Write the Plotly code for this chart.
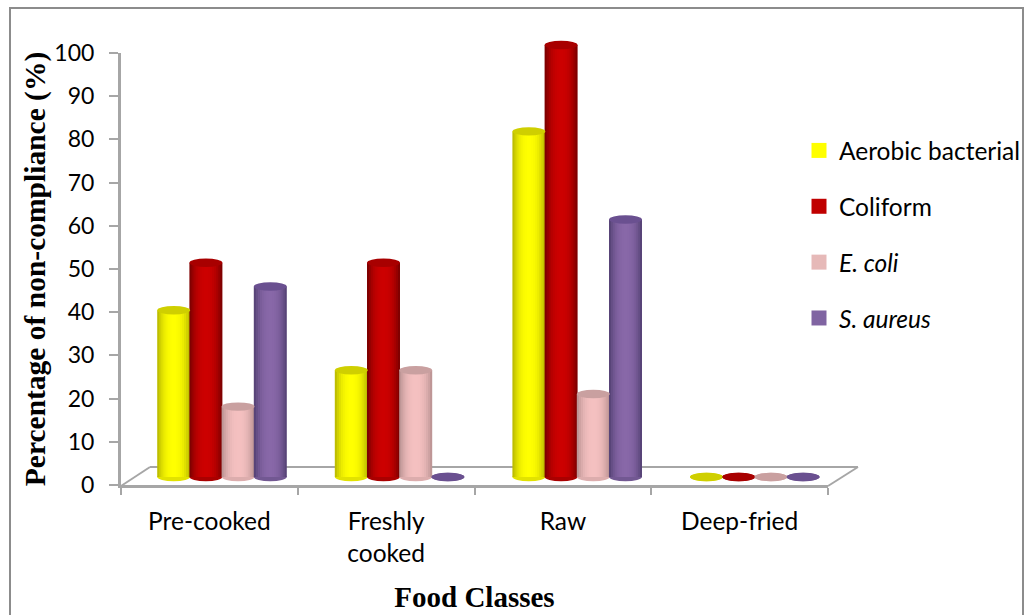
import plotly.graph_objects as go

W, H = 1029, 615

# ---- data ----
categories = ["Pre-cooked", "Freshly<br>cooked", "Raw", "Deep-fried"]
aerobic = [38.6, 24.7, 80, 0]
coliform = [49.6, 49.6, 100, 0]
e_coli = [16.3, 24.7, 19.2, 0]
s_aureus = [44.1, 0, 59.6, 0]
series_names = ["Aerobic bacterial", "Coliform", "<i>E. coli</i>", "<i>S. aureus</i>"]
series_values = [aerobic, coliform, e_coli, s_aureus]
# centre, edge, cap colours
palette = [
    ((255, 255, 0), (190, 190, 0), "#CFCF00"),
    ((204, 0, 0), (128, 0, 0), "#A80000"),
    ((244, 192, 192), (190, 150, 150), "#C9A0A0"),
    ((136, 104, 168), (88, 68, 120), "#6A5090"),
]
legend_colors = ["#FFFF00", "#C00000", "#E6B9B8", "#8064A2"]

# ---- geometry (pixels) ----
AX_L, AX_R, AX_T, AX_B = 121, 828, 53, 485      # visible axes
BX_L, BX_R, BX_T, BX_B = 121, 866, 36, 495      # depth-shifted plot for the cylinders
B_ZERO, B_PER_UNIT = 477, 4.32                  # y pixel of value 0 in the shifted plot
G0, G_STEP = 222, 177.6                         # centre of first group, step between groups
BAR_PX, STEP_PX = 33, 32.2
CAP_HALF_PX = 4.2


def px(x):
    return x / W


def py(y):
    return 1 - y / H


x2_range = [(BX_L - G0) / G_STEP, (BX_R - G0) / G_STEP]
y2_range = [(B_ZERO - BX_B) / B_PER_UNIT, (B_ZERO - BX_T) / B_PER_UNIT]
bar_w = BAR_PX / G_STEP
step = STEP_PX / G_STEP
cap_h = CAP_HALF_PX / B_PER_UNIT

fig = go.Figure()
shapes = []


def mix(a, b, t):
    return "rgb(%d,%d,%d)" % tuple(round(a[i] + (b[i] - a[i]) * t) for i in range(3))


idx = list(range(len(categories)))
LAYERS = 8
for s, vals in enumerate(series_values):
    center, edge, cap = palette[s]
    off = (s - 1.5) * step
    for k in range(LAYERS):
        frac = 1 - k / LAYERS
        t = frac ** 2.6
        w = bar_w * frac
        fig.add_trace(go.Bar(
            x=idx, y=vals, width=w, offset=off - w / 2,
            marker=dict(color=mix(center, edge, t), line=dict(width=0)),
            xaxis="x2", yaxis="y2", showlegend=False, hoverinfo="skip",
        ))
    for i, v in enumerate(vals):
        cx = i + off
        # rounded foot, beneath the cylinder
        shapes.append(dict(type="circle", xref="x2", yref="y2", layer="between",
                           x0=cx - bar_w / 2, x1=cx + bar_w / 2, y0=-cap_h, y1=cap_h,
                           fillcolor=mix(center, edge, 0.45), line=dict(width=0)))
    for i, v in enumerate(vals):
        cx = i + off
        shapes.append(dict(type="circle", xref="x2", yref="y2", layer="above",
                           x0=cx - bar_w / 2, x1=cx + bar_w / 2, y0=v - cap_h, y1=v + cap_h,
                           fillcolor=cap, line=dict(width=0)))

# legend entries
for name, col in zip(series_names, legend_colors):
    fig.add_trace(go.Scatter(
        x=[categories[0]], y=[None], name=name, mode="markers", legendgroup=name,
        marker=dict(symbol="square", size=15, color=col), hoverinfo="skip",
    ))

GREY = "#A6A6A6"
# floor of the 3-D box
floor = [
    (121, 486, 150, 467),
    (150, 467, 858, 467),
    (858, 467, 828, 486),
]
for x0, y0, x1, y1 in floor:
    shapes.append(dict(type="line", xref="paper", yref="paper", layer="below",
                       x0=px(x0), x1=px(x1), y0=py(y0), y1=py(y1),
                       line=dict(color=GREY, width=2)))
# outer frame
shapes.append(dict(type="rect", xref="paper", yref="paper", layer="below",
                   x0=px(10), x1=px(1023), y0=py(625), y1=py(8),
                   line=dict(color="#8C8C8C", width=2), fillcolor="rgba(0,0,0,0)"))

fig.update_layout(
    width=W, height=H,
    margin=dict(l=0, r=0, t=0, b=0, autoexpand=False),
    paper_bgcolor="white", plot_bgcolor="rgba(0,0,0,0)",
    barmode="overlay",
    font=dict(family="Lato, Carlito, sans-serif", color="black"),
    xaxis=dict(
        domain=[px(AX_L), px(AX_R)], type="category",
        categoryorder="array", categoryarray=categories, range=[-0.5, 3.5],
        tickson="boundaries", ticks="outside", ticklen=7, tickwidth=2, tickcolor=GREY,
        showline=True, linecolor=GREY, linewidth=3, showgrid=False, zeroline=False,
        tickfont=dict(size=24.5), anchor="y", ticklabelstandoff=13,
        title=dict(text="<b>Food Classes</b>", standoff=21,
                   font=dict(family="Liberation Serif", size=29, color="black")),
    ),
    yaxis=dict(
        domain=[py(AX_B), py(AX_T)], range=[0, 100], dtick=10, tick0=0,
        ticks="outside", ticklen=9, tickwidth=2, tickcolor=GREY,
        showline=True, linecolor=GREY, linewidth=3, showgrid=False, zeroline=False,
        tickfont=dict(size=23), anchor="x", ticklabelstandoff=10,
        title=dict(text="<b>Percentage of non-compliance (%)</b>", standoff=1,
                   font=dict(family="Liberation Serif", size=29.5, color="black")),
    ),
    xaxis2=dict(domain=[px(BX_L), px(BX_R)], range=x2_range, visible=False, anchor="y2", fixedrange=True),
    yaxis2=dict(domain=[py(BX_B), py(BX_T)], range=y2_range, visible=False, anchor="x2", fixedrange=True),
    legend=dict(
        x=px(799), y=py(128), xanchor="left", yanchor="top",
        bgcolor="rgba(0,0,0,0)", font=dict(size=24.5), tracegroupgap=21,
        itemsizing="trace",
    ),
    shapes=shapes,
)

fig.write_html("out.html", config=dict(displayModeBar=False),
               post_script="document.body.style.margin='0';document.body.style.overflow='hidden';")
